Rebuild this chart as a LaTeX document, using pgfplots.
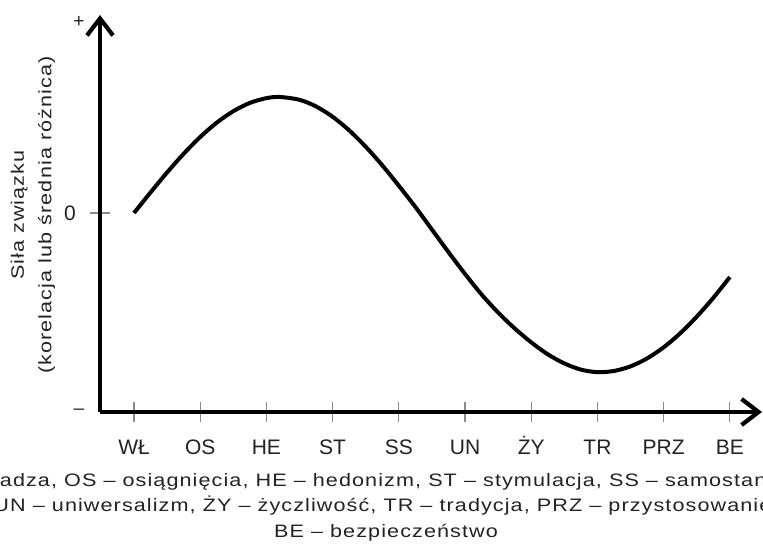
\documentclass[border=0pt]{standalone}
\usepackage{pgfplots}
\pgfplotsset{compat=1.18}
\usepackage{fontspec}
\setmainfont{Liberation Sans}
\newfontfamily\capfont[FakeStretch=1.2,LetterSpace=6]{Liberation Sans}
\usetikzlibrary{arrows.meta}
\definecolor{txt}{HTML}{222222}
\definecolor{tickgray}{HTML}{8A8A8A}
\begin{document}
\begin{tikzpicture}
\useasboundingbox (-50pt,-68.5pt) rectangle (331.5pt,206pt);
\clip (-50pt,-68.5pt) rectangle (331.5pt,206pt);
\begin{axis}[
  at={(0,0)}, anchor=south west,
  scale only axis, width=331pt, height=198.5pt,
  xmin=-0.5136, xmax=9.486, ymin=-1, ymax=0.995,
  axis lines=left,
  axis line style={line width=2.1pt, -{Straight Barb[length=8.5pt,width=13pt,line width=2.1pt]}},
  tick align=center,
  major tick length=10pt,
  tick style={tickgray, line width=0.6pt},
  xtick={0,1,2,3,4,5,6,7,8,9},
  xticklabels={WŁ,OS,HE,ST,SS,UN,ŻY,TR,PRZ,BE},
  xticklabel style={anchor=base, yshift=-16.5pt, font=\fontsize{10.5}{12}\selectfont, text=txt},
  ytick={0},
  yticklabels={0},
  yticklabel style={anchor=center, xshift=-10pt, font=\fontsize{10.5}{12}\selectfont, text=txt},
  extra y ticks={-1,0.96},
  extra y tick labels={–,+},
  extra y tick style={major tick length=0pt, yticklabel style={font=\fontsize{9.5}{10}\selectfont, xshift=-0.5pt}},
  ylabel={Siła związku\\(korelacja lub średnia różnica)},
  ylabel style={at={(axis description cs:-0.1012,0.496)}, anchor=center, align=center, font=\capfont\fontsize{9}{13.75}\selectfont, text=txt},
  clip=false,
]
\addplot[smooth, line width=2pt, black] coordinates {
(0,0) (0.25,0.1035) (0.5,0.2038) (0.75,0.2975) (1.0,0.3819) (1.25,0.4540)
(1.5,0.5116) (1.75,0.5531) (2.0,0.5771) (2.2,0.583) (2.5,0.5687) (2.75,0.5353)
(3.0,0.4835) (3.25,0.4153) (3.5,0.3329) (3.75,0.2396) (4.0,0.1370) (4.25,0.0303)
(4.5,-0.0830) (4.75,-0.1966) (5.0,-0.3061) (5.25,-0.4094) (5.5,-0.5000)
(5.75,-0.5800) (6.0,-0.6500) (6.25,-0.7100) (6.5,-0.7560) (6.75,-0.7870)
(7.0,-0.7998) (7.25,-0.7939) (7.5,-0.7707) (7.75,-0.7308) (8.0,-0.6750)
(8.25,-0.6046) (8.5,-0.5211) (8.75,-0.4265) (9.0,-0.3221)
};
\end{axis}
\begin{scope}[every node/.style={anchor=base, text=txt, font=\capfont\fontsize{9}{10}\selectfont, inner sep=0pt}]
\node at (143pt,-37.5pt) {WŁ – władza, OS – osiągnięcia, HE – hedonizm, ST – stymulacja, SS – samostanowienie,};
\node at (143pt,-50pt) {UN – uniwersalizm, ŻY – życzliwość, TR – tradycja, PRZ – przystosowanie,};
\node at (143pt,-63pt) {BE – bezpieczeństwo};
\end{scope}
\end{tikzpicture}
\end{document}
